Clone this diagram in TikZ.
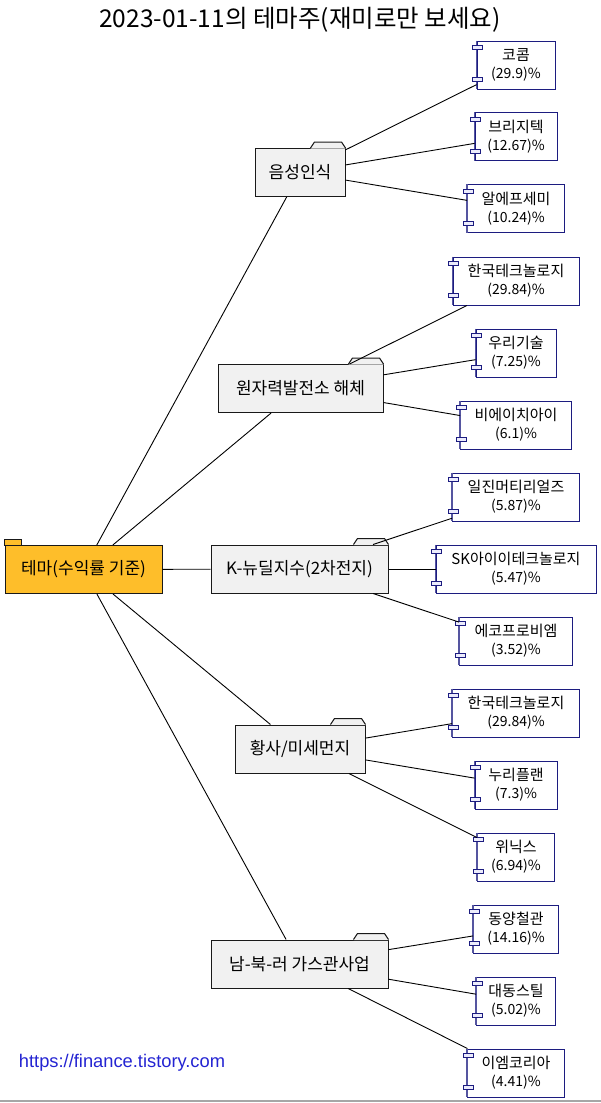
\documentclass[tikz,border=0pt]{standalone}
\usepackage{fontspec}
\newfontfamily\krfont{Noto Sans CJK KR}
\newfontfamily\urlfont{Liberation Sans}
\usetikzlibrary{calc}
\definecolor{rootfill}{RGB}{254,190,42}
\definecolor{foldgray}{RGB}{241,241,241}
\definecolor{compnavy}{RGB}{28,28,128}
\definecolor{portfill}{RGB}{236,236,252}
\definecolor{urlblue}{RGB}{36,36,210}
\tikzset{
  linkln/.style={line width=0.9pt, black},
  folderbox/.style={draw=black!90, line width=1pt, fill=foldgray, minimum height=48pt,
    inner sep=0pt, font=\krfont\fontsize{17}{20}\selectfont},
  rootbox/.style={folderbox, fill=rootfill},
  compbox/.style={draw=compnavy, line width=0.9pt, fill=white, minimum height=48pt,
    inner sep=0pt, align=center, font=\krfont\fontsize{15}{18}\selectfont},
  portbox/.style={draw=compnavy, line width=0.8pt, fill=portfill},
}
\newcommand{\foldtab}[1]{%
  \fill[foldgray] ($(#1.north east)+(-35,0.6)$) -- ++(4,-6.6) -- ++(27,0) -- ++(4,6.6) -- cycle;
  \draw[black!90, line width=1pt] ($(#1.north east)+(-35,0)$) -- ++(4,-6) -- ++(27,0) -- ++(4,6);
}
\newcommand{\ports}[1]{%
  \draw[compnavy!75, line width=1.6pt] (#1.north west) -- (#1.south west);
  \draw[portbox] ($(#1.north west)+(-4,5)$) rectangle ++(10,4);
  \draw[portbox] ($(#1.south west)+(-4,-12)$) rectangle ++(10,4);
}
\newcommand{\pct}[1]{{\fontsize{14}{18}\selectfont(#1)\%}}

\begin{document}
\begin{tikzpicture}[x=1pt,y=-1pt]
  \useasboundingbox (0,0) rectangle (601,1103);
  \node[font=\krfont\fontsize{24.5}{28}\selectfont] (title) at (300,20)
    {2023-01-11의 테마주(재미로만 보세요)};
  % root folder
  \node[rootbox, minimum width=157pt] (root) at (83.5,569.5) {테마(수익률 기준)};
  \filldraw[rootfill, draw=black!90, line width=1pt]
    (root.north west) rectangle ++(17,-6);
  % themes
  \node[folderbox, minimum width=90pt] (f1) at (300,172.5) {음성인식};
  \node[folderbox, minimum width=165pt] (f2) at (300.5,388.5) {원자력발전소 해체};
  \node[folderbox, minimum width=177pt] (f3) at (299.5,569) {K-뉴딜지수(2차전지)};
  \node[folderbox, minimum width=130pt] (f4) at (300,749) {황사/미세먼지};
  \node[folderbox, minimum width=177pt] (f5) at (299.5,964) {남-북-러 가스관사업};
  \foreach \f in {f1,f2,f3,f4,f5} {\foldtab{\f}}
  % stocks
  \foreach \id/\y/\w/\nm/\p in {
      11/65/78/코콤/29.9, 12/136.5/82/브리지텍/12.67, 13/208.5/97/알에프세미/10.24,
      21/281/126/한국테크놀로지/29.84, 22/353/80/우리기술/7.25, 23/425/111/비에이치아이/6.1,
      31/497/127/일진머티리얼즈/5.87, 32/569/160/SK아이이테크놀로지/5.47, 33/641/113/에코프로비엠/3.52,
      41/713/127/한국테크놀로지/29.84, 42/785/82/누리플랜/7.3, 43/857/77/위닉스/6.94,
      51/929/85/동양철관/14.16, 52/1001/79/대동스틸/5.02, 53/1073/97/이엠코리아/4.41} {
    \node[compbox, minimum width=\w pt] (c\id) at (516,\y) {\nm\\\pct{\p}};
    \ports{c\id}
  }
  % links
  \foreach \f in {f1,f2,f3,f4,f5} {\draw[linkln] (root) -- (\f);}
  \foreach \f/\c in {f1/c11, f1/c12, f1/c13, f2/c21, f2/c22, f2/c23, f3/c31, f3/c32, f3/c33,
      f4/c41, f4/c42, f4/c43, f5/c51, f5/c52, f5/c53} {
    \draw[linkln] (\f) -- (\c);
  }
  \node[font=\urlfont\fontsize{18.3}{21}\selectfont, text=urlblue] (url) at (122,1063)
    {https://finance.tistory.com};
  \draw[gray!70, line width=1.2pt] (0,1101) -- (601,1101);
\end{tikzpicture}
\end{document}
